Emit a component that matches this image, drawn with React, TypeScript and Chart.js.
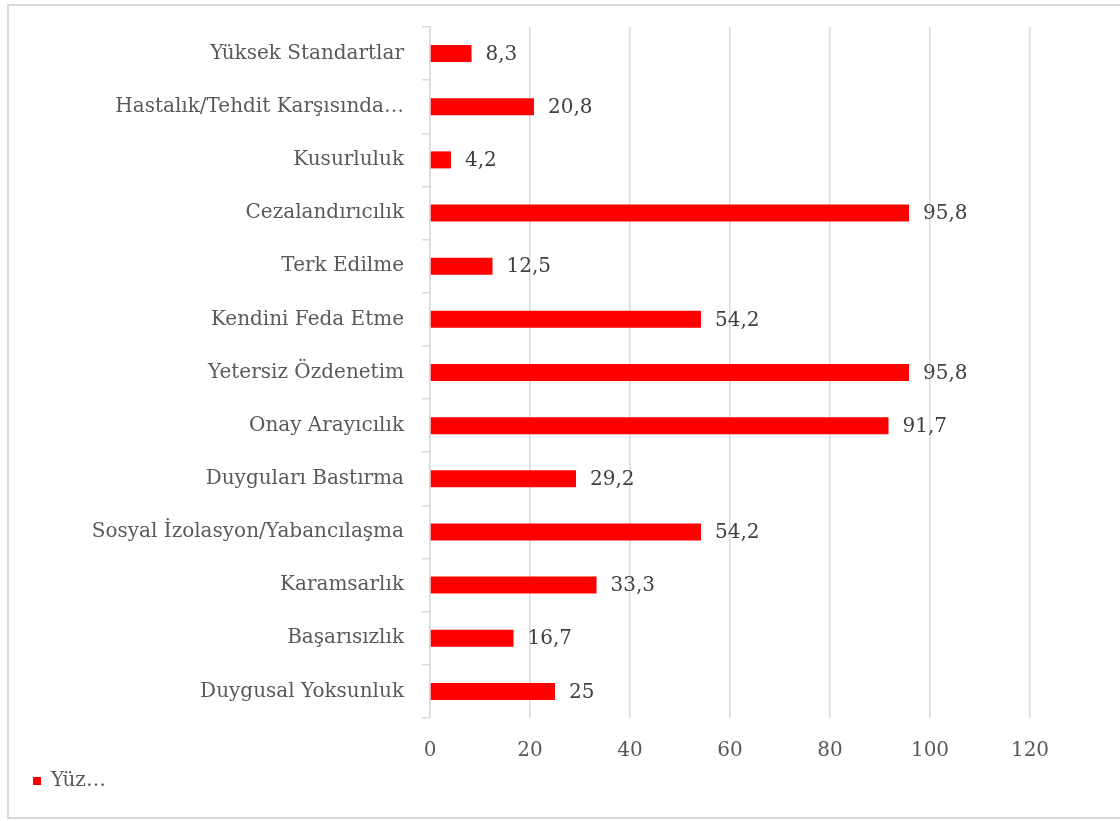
import React, { useEffect, useRef } from "react";
import { Chart, registerables } from "chart.js";

Chart.register(...registerables);

const categories: string[] = [
  "Yüksek Standartlar",
  "Hastalık/Tehdit Karşısında…",
  "Kusurluluk",
  "Cezalandırıcılık",
  "Terk Edilme",
  "Kendini Feda Etme",
  "Yetersiz Özdenetim",
  "Onay Arayıcılık",
  "Duyguları Bastırma",
  "Sosyal İzolasyon/Yabancılaşma",
  "Karamsarlık",
  "Başarısızlık",
  "Duygusal Yoksunluk",
];

const values: number[] = [8.3, 20.8, 4.2, 95.8, 12.5, 54.2, 95.8, 91.7, 29.2, 54.2, 33.3, 16.7, 25];

const seriesLabel = "Yüz…";
const xTicks: number[] = [0, 20, 40, 60, 80, 100, 120];

const FONT = "'DejaVu Serif', serif";
const FS = 20;

const valueLabelPlugin = {
  id: "valueLabels",
  afterDatasetsDraw(chart: any) {
    const ctx = chart.ctx;
    const meta = chart.getDatasetMeta(0);
    ctx.save();
    ctx.font = `${FS}px ${FONT}`;
    ctx.fillStyle = "#404040";
    ctx.textAlign = "left";
    ctx.textBaseline = "middle";
    meta.data.forEach((bar: any, i: number) => {
      const txt = String(values[i]).replace(".", ",");
      ctx.fillText(txt, bar.x + 14, bar.y + 1);
    });
    ctx.restore();
  },
};

export default function App() {
  const ref = useRef<HTMLCanvasElement | null>(null);

  useEffect(() => {
    if (!ref.current) return;
    const chart = new Chart(ref.current, {
      type: "bar",
      data: {
        labels: categories,
        datasets: [
          {
            label: seriesLabel,
            data: values,
            backgroundColor: "#FF0000",
            borderWidth: 0,
            barPercentage: 0.32,
            categoryPercentage: 1,
          },
        ],
      },
      options: {
        indexAxis: "y",
        animation: false,
        responsive: false,
        maintainAspectRatio: false,
        layout: { padding: { left: 14, right: 90, top: 21, bottom: 16 } },
        plugins: {
          legend: {
            position: "bottom",
            align: "start",
            labels: {
              usePointStyle: true,
              pointStyle: "rect",
              boxWidth: 8,
              boxHeight: 8,
              color: "#595959",
              font: { family: FONT, size: FS },
            },
          },
          tooltip: { enabled: false },
        },
        scales: {
          x: {
            min: 0,
            max: 120,
            afterBuildTicks: (s: any) => {
              s.ticks = xTicks.map((v) => ({ value: v }));
            },
            afterFit: (s: any) => {
              s.height = 43;
            },
            grid: { color: "#d9d9d9", lineWidth: 1.5, drawTicks: false },
            border: { display: false },
            ticks: {
              color: "#595959",
              padding: 21,
              font: { family: FONT, size: FS },
            },
          },
          y: {
            afterFit: (s: any) => {
              s.width = 407;
              s.paddingTop = 0;
              s.paddingBottom = 0;
            },
            grid: {
              display: true,
              drawOnChartArea: false,
              tickLength: 8,
              color: "#d9d9d9",
              lineWidth: 1.5,
              offset: true,
            },
            border: { display: true, color: "#d9d9d9", width: 1.5 },
            ticks: {
              color: "#595959",
              padding: 18,
              autoSkip: false,
              font: { family: FONT, size: FS },
            },
          },
        },
      },
      plugins: [valueLabelPlugin],
    } as any);
    return () => chart.destroy();
  }, []);

  return (
    <div
      style={{
        position: "absolute",
        left: 7,
        top: 4,
        width: 1111,
        height: 811,
        border: "2px solid #d9d9d9",
        borderRight: "none",
        background: "#fff",
      }}
    >
      <canvas ref={ref} width={1111} height={811} style={{ display: "block" }} />
    </div>
  );
}
